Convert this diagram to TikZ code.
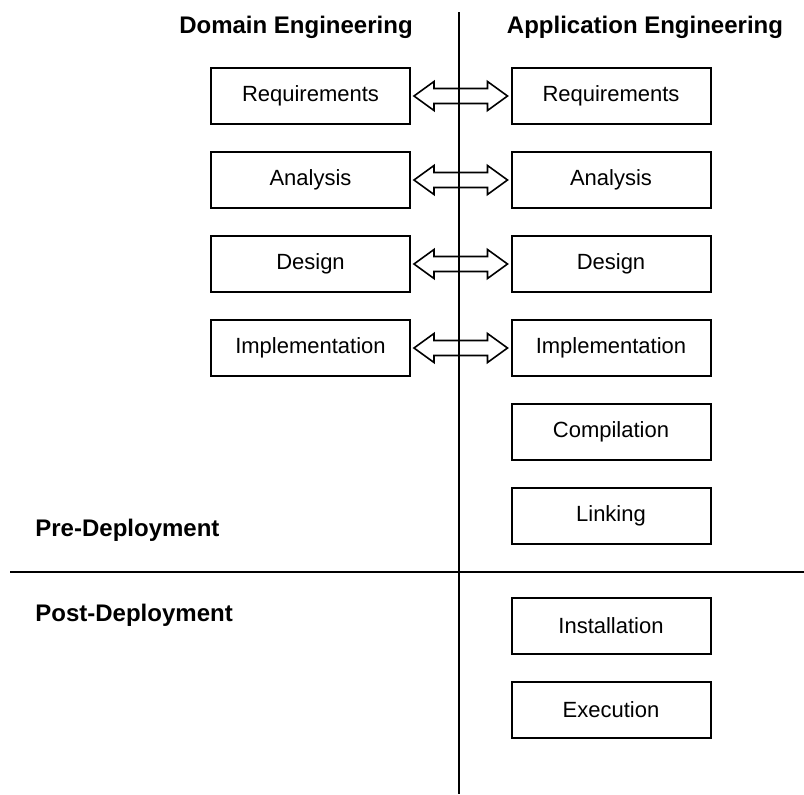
\documentclass[tikz,border=0pt]{standalone}
\usepackage{fontspec}
\setmainfont{Liberation Sans}
\usepackage{tikz}
\usetikzlibrary{calc}
\definecolor{boxline}{RGB}{0, 0, 0}

\tikzset{
  stage/.style={draw=boxline, line width=1pt, fill=white, minimum width=99.5pt, minimum height=28pt, inner sep=0pt, font=\fontsize{11}{13}\selectfont},
  header/.style={font=\fontsize{12}{14}\selectfont\bfseries, inner sep=0pt},
  divider/.style={line width=1pt},
  dblarrow/.style={draw=boxline, line width=0.8pt, fill=white, to path={
    ($(\tikztostart.east)+(3,0)$) coordinate (s) -- ++(20,-14.5) -- ++(0,7)
    -- ($(\tikztotarget.west)+(-23,-7.5)$) -- ++(0,-7) -- ($(\tikztotarget.west)+(-3,0)$)
    -- ++(-20,14.5) -- ++(0,-7) -- ($(s)+(20,7.5)$) -- ++(0,7) -- cycle}}
}

\begin{document}
\begin{tikzpicture}[x=0.5pt, y=-0.5pt]
        \useasboundingbox (0,0) rectangle (804,794);

        % 标题
        \node[header] (dom) at (296,27) {Domain Engineering};
        \node[header] (app) at (645,27) {Application Engineering};
        \node[header, anchor=west] (pre) at (35,530) {Pre-Deployment};
        \node[header, anchor=west] (post) at (35,615) {Post-Deployment};

        % 左列
        \node[stage] (dreq) at (310.5,96) {Requirements};
        \node[stage] (dana) at (310.5,180) {Analysis};
        \node[stage] (ddes) at (310.5,264) {Design};
        \node[stage] (dimp) at (310.5,348) {Implementation};

        % 右列
        \node[stage] (areq) at (611,96) {Requirements};
        \node[stage] (aana) at (611,180) {Analysis};
        \node[stage] (ades) at (611,264) {Design};
        \node[stage] (aimp) at (611,348) {Implementation};
        \node[stage] (acomp) at (611,432) {Compilation};
        \node[stage] (alink) at (611,516) {Linking};
        \node[stage] (ainst) at (611,626) {Installation};
        \node[stage] (aexec) at (611,710) {Execution};

        % 双向箭头
        \draw[dblarrow] (dreq) to (areq);
        \draw[dblarrow] (dana) to (aana);
        \draw[dblarrow] (ddes) to (ades);
        \draw[dblarrow] (dimp) to (aimp);

        % 分隔线
        \coordinate (vtop) at (459,12);
        \coordinate (vbot) at (459,794);
        \coordinate (hleft) at (10,572);
        \coordinate (hright) at (804,572);
        \draw[divider] (vtop) -- (vbot);
        \draw[divider] (hleft) -- (hright);

    \end{tikzpicture}
\end{document}
